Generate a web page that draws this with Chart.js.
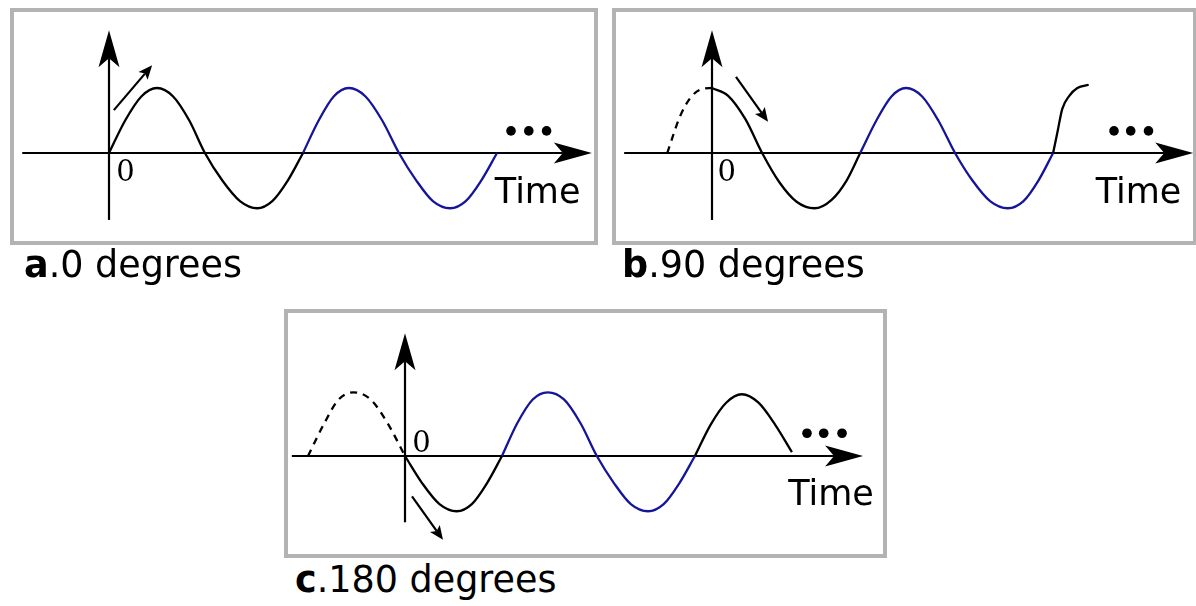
<!DOCTYPE html>
<html>
<head>
<meta charset="utf-8">
<script src="https://cdn.jsdelivr.net/npm/chart.js@4"></script>
<style>
  html, body { margin: 0; padding: 0; background: #fff; }
  body { width: 1196px; height: 606px; position: relative; overflow: hidden; }
  .box { position: absolute; box-sizing: border-box; border: 4px solid #b3b3b3; }
  canvas { position: absolute; }
  .lab { position: absolute; font-family: "DejaVu Sans", sans-serif; font-size: 36.5px; line-height: 36.5px; color: #000; white-space: nowrap; }
</style>
</head>
<body>
<div class="box" style="left:10px;top:8px;width:588px;height:237px"></div>
<div class="box" style="left:612px;top:8px;width:585px;height:237px"></div>
<div class="box" style="left:284px;top:309px;width:603px;height:249px"></div>
<canvas id="ca" width="588" height="237" style="left:10px;top:8px"></canvas>
<canvas id="cb" width="585" height="237" style="left:612px;top:8px"></canvas>
<canvas id="cc" width="603" height="249" style="left:284px;top:309px"></canvas>
<div class="lab" style="left:24px;top:247px"><b>a</b>.0 degrees</div>
<div class="lab" style="left:622px;top:247px"><b>b</b>.90 degrees</div>
<div class="lab" style="left:295px;top:562px"><b>c</b>.180 degrees</div>
<script>
// ---------- data: phase (degrees) and amplitude (peak = 1) ----------
// Panel a (0 degrees)
const aBlackDeg = [0, 30, 60, 89, 119, 149, 178, 210, 243, 275, 303, 332, 360];
const aBlackAmp = [0, 0.5, 0.87, 1, 0.87, 0.5, 0, -0.42, -0.74, -0.85, -0.74, -0.42, 0];
const aBlueDeg  = [360, 389, 417, 445, 476, 507, 538, 570, 601, 633, 662, 691, 720];
const aBlueAmp  = [0, 0.5, 0.87, 1, 0.87, 0.5, 0, -0.42, -0.74, -0.85, -0.74, -0.42, 0];

// Panel b (90 degrees)
const bDashDeg   = [-83, -60, -40, -20, 0];
const bDashAmp   = [0, 0.55, 0.85, 0.98, 1];
const bBlackDeg  = [0, 30, 62, 93, 125, 157, 190, 222, 250, 275];
const bBlackAmp  = [1, 0.88, 0.52, 0, -0.45, -0.75, -0.85, -0.72, -0.42, 0];
const bBlueDeg   = [275, 305, 333, 360, 390, 420, 451, 483, 516, 549, 578, 606, 633];
const bBlueAmp   = [0, 0.5, 0.87, 1, 0.87, 0.5, 0, -0.42, -0.74, -0.85, -0.74, -0.42, 0];
const bTailDeg   = [633, 641, 650, 663, 678, 699];
const bTailAmp   = [0, 0.32, 0.68, 0.88, 1.0, 1.05];

// Panel c (180 degrees)
const cDashDeg   = [-180, -150, -123, -96, -64, -32, 0];
const cDashAmp   = [0, 0.5, 0.87, 0.98, 0.87, 0.5, 0];
const cBlackDeg  = [0, 32, 64, 96, 124, 152, 180];
const cBlackAmp  = [0, -0.42, -0.74, -0.85, -0.74, -0.42, 0];
const cBlueDeg   = [180, 208, 237, 265, 295, 326, 356, 388, 419, 451, 480, 509, 538];
const cBlueAmp   = [0, 0.5, 0.87, 0.98, 0.87, 0.5, 0, -0.42, -0.74, -0.85, -0.74, -0.42, 0];
const cTailDeg   = [538, 567, 596, 625, 656, 687, 718];
const cTailAmp   = [0, 0.48, 0.82, 0.95, 0.82, 0.48, 0.06];

// Text labels
const axisLabel = "Time";
const originLabel = "0";

// ---------- layout ----------
const PX_PER_DEG = 194 / 360;
const PX_PER_AMP = 65;
const BLACK = "#000000";
const BLUE = "#15159a";

function pts(xs, ys) { return xs.map((x, i) => ({ x: x, y: ys[i] })); }
function ds(xs, ys, color, dashed) {
  return { data: pts(xs, ys), borderColor: color, borderWidth: 2.3, borderDash: dashed ? [7, 6] : [],
           fill: false, pointRadius: 0, cubicInterpolationMode: 'monotone' };
}

function arrowHead(ctx, tx, ty, ang, len, hw, notch) {
  const dx = Math.cos(ang), dy = Math.sin(ang);
  const px = -dy, py = dx;
  ctx.beginPath();
  ctx.moveTo(tx, ty);
  ctx.lineTo(tx - len * dx + hw * px, ty - len * dy + hw * py);
  ctx.lineTo(tx - (len - notch) * dx, ty - (len - notch) * dy);
  ctx.lineTo(tx - len * dx - hw * px, ty - len * dy - hw * py);
  ctx.closePath();
  ctx.fill();
}
function arrow(ctx, x0, y0, x1, y1, len, hw, notch, lw) {
  const ang = Math.atan2(y1 - y0, x1 - x0);
  const ex = x1 - (len - notch) * Math.cos(ang), ey = y1 - (len - notch) * Math.sin(ang);
  ctx.lineWidth = lw;
  ctx.beginPath(); ctx.moveTo(x0, y0); ctx.lineTo(ex, ey); ctx.stroke();
  arrowHead(ctx, x1, y1, ang, len, hw, notch);
}

const deco = {
  id: 'deco',
  beforeDatasetsDraw(chart) {
    const o = chart.options.plugins.deco;
    const { ctx, scales: { x, y } } = chart;
    ctx.save();
    ctx.strokeStyle = BLACK; ctx.fillStyle = BLACK; ctx.lineCap = 'butt';
    arrow(ctx, x.getPixelForValue(o.xAxis[0]), y.getPixelForValue(0),
          x.getPixelForValue(o.xAxis[1]), y.getPixelForValue(0), 38, 10.5, 9, 2.2);
    arrow(ctx, x.getPixelForValue(0), y.getPixelForValue(o.yAxis[0]),
          x.getPixelForValue(0), y.getPixelForValue(o.yAxis[1]), 37, 10.5, 9, 2.2);
    ctx.restore();
  },
  afterDatasetsDraw(chart) {
    const o = chart.options.plugins.deco;
    const { ctx, scales: { x, y } } = chart;
    ctx.save();
    ctx.strokeStyle = BLACK; ctx.fillStyle = BLACK;
    arrow(ctx, x.getPixelForValue(o.dir[0]), y.getPixelForValue(o.dir[1]),
          x.getPixelForValue(o.dir[2]), y.getPixelForValue(o.dir[3]), 14, 6, 3, 2.2);
    ctx.font = '29px "DejaVu Serif", serif';
    ctx.textBaseline = 'alphabetic'; ctx.textAlign = 'left';
    ctx.fillText(originLabel, x.getPixelForValue(o.zero[0]), y.getPixelForValue(o.zero[1]));
    ctx.font = '35px "DejaVu Sans", sans-serif';
    ctx.fillText(axisLabel, x.getPixelForValue(o.time[0]), y.getPixelForValue(o.time[1]));
    o.dots.forEach(d => {
      ctx.beginPath();
      ctx.arc(x.getPixelForValue(d), y.getPixelForValue(o.dotsY), 4.8, 0, Math.PI * 2);
      ctx.fill();
    });
    ctx.restore();
  }
};

function makeChart(id, box, origin, datasets, d) {
  const scales = {
    x: { type: 'linear', display: false,
         min: (box.left - origin.x) / PX_PER_DEG, max: (box.left + box.width - origin.x) / PX_PER_DEG },
    y: { type: 'linear', display: false,
         min: (origin.y - (box.top + box.height)) / PX_PER_AMP, max: (origin.y - box.top) / PX_PER_AMP }
  };
  new Chart(document.getElementById(id), {
    type: 'line',
    data: { datasets: datasets },
    options: {
      responsive: false, animation: false, events: [],
      layout: { padding: 0 },
      plugins: { legend: { display: false }, tooltip: { enabled: false }, deco: d },
      scales: scales
    },
    plugins: [deco]
  });
}

makeChart('ca', { left: 10, top: 8, width: 588, height: 237 }, { x: 109, y: 153 },
  [ds(aBlackDeg, aBlackAmp, BLACK), ds(aBlueDeg, aBlueAmp, BLUE)],
  { xAxis: [-161, 896], yAxis: [-1.03, 1.89], dir: [9, 0.66, 80, 1.35],
    zero: [13.5, -0.43], time: [716, -0.77], dots: [746, 779, 812], dotsY: 0.34 });

makeChart('cb', { left: 612, top: 8, width: 585, height: 237 }, { x: 712, y: 153 },
  [ds(bDashDeg, bDashAmp, BLACK, true), ds(bBlackDeg, bBlackAmp, BLACK),
   ds(bBlueDeg, bBlueAmp, BLUE), ds(bTailDeg, bTailAmp, BLACK)],
  { xAxis: [-163, 893], yAxis: [-1.03, 1.89], dir: [44.5, 1.17, 104, 0.48],
    zero: [10, -0.43], time: [712, -0.77], dots: [746, 777, 810], dotsY: 0.34 });

makeChart('cc', { left: 284, top: 309, width: 603, height: 249 }, { x: 405, y: 456 },
  [ds(cDashDeg, cDashAmp, BLACK, true), ds(cBlackDeg, cBlackAmp, BLACK),
   ds(cBlueDeg, cBlueAmp, BLUE), ds(cTailDeg, cTailAmp, BLACK)],
  { xAxis: [-210, 850], yAxis: [-1.02, 1.89], dir: [13, -0.62, 70.5, -1.29],
    zero: [13.5, 0.06], time: [711, -0.75], dots: [746, 777, 811], dotsY: 0.35 });
</script>
</body>
</html>
